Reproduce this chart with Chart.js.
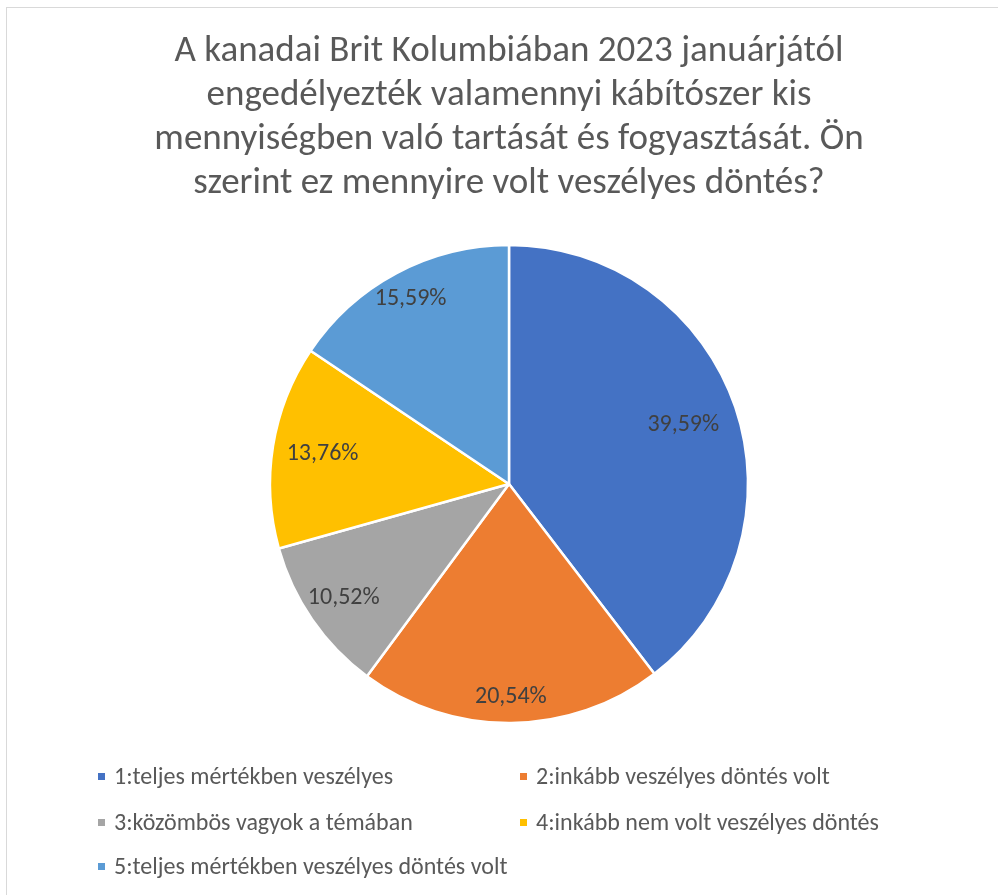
<!DOCTYPE html>
<html>
<head>
<meta charset="utf-8">
<script src="https://cdn.jsdelivr.net/npm/chart.js@4/dist/chart.umd.min.js"></script>
<style>
  html, body { margin: 0; padding: 0; background: #fff; }
  #wrap { position: relative; width: 998px; height: 895px; overflow: hidden; font-family: Carlito, Calibri, Lato, sans-serif; }
  #frame { position: absolute; left: 6px; top: 7px; width: 1100px; height: 1000px; border: 1px solid #d9d9d9; box-sizing: border-box; }
  canvas { position: absolute; left: 0; top: 0; }
  .lg { position: absolute; display: flex; align-items: center; color: #595959; font-size: 24px; white-space: nowrap; line-height: 1; }
  .lg .sq { width: 7px; height: 7px; margin-right: 9px; }
</style>
</head>
<body>
<div id="wrap">
  <div id="frame"></div>
  <canvas id="c" width="998" height="895"></canvas>
  <div id="legend"></div>
</div>
<script>
const titleLines = [
  "A kanadai Brit Kolumbiában 2023 januárjától",
  "engedélyezték valamennyi kábítószer kis",
  "mennyiségben való tartását és fogyasztását. Ön",
  "szerint ez mennyire volt veszélyes döntés?"
];
const categories = [
  "1:teljes mértékben veszélyes",
  "2:inkább veszélyes döntés volt",
  "3:közömbös vagyok a témában",
  "4:inkább nem volt veszélyes döntés",
  "5:teljes mértékben veszélyes döntés volt"
];
const values = [39.59, 20.54, 10.52, 13.76, 15.59];
const colors = ["#4472C4", "#ED7D31", "#A5A5A5", "#FFC000", "#5B9BD5"];

const FONT = "Carlito, Calibri, Lato, sans-serif";

// label distance from centre as fraction of radius (per slice, like Excel best fit)
const labelPlugin = {
  id: 'sliceLabels',
  afterDatasetsDraw(chart, args, opts) {
    const ctx = chart.ctx;
    const meta = chart.getDatasetMeta(0);
    ctx.save();
    ctx.font = opts.size + 'px ' + FONT;
    ctx.fillStyle = opts.color;
    ctx.textAlign = 'center';
    ctx.textBaseline = 'middle';
    meta.data.forEach((arc, i) => {
      const p = arc.getProps(['x', 'y', 'startAngle', 'endAngle', 'outerRadius'], true);
      const mid = (p.startAngle + p.endAngle) / 2;
      const r = p.outerRadius * opts.dist[i];
      const v = chart.data.datasets[0].data[i];
      const txt = v.toFixed(2).replace('.', ',') + '%';
      ctx.fillText(txt, p.x + Math.cos(mid) * r, p.y + Math.sin(mid) * r);
    });
    ctx.restore();
  }
};

new Chart(document.getElementById('c'), {
  type: 'pie',
  data: {
    labels: categories,
    datasets: [{
      data: values,
      backgroundColor: colors,
      borderColor: '#ffffff',
      borderWidth: 2.5,
      radius: 239
    }]
  },
  options: {
    responsive: false,
    animation: false,
    devicePixelRatio: 1,
    layout: { padding: { left: 20, right: 0, top: 0, bottom: 172 } },
    plugins: {
      legend: { display: false },
      tooltip: { enabled: false },
      title: {
        display: true,
        text: titleLines,
        color: '#595959',
        font: { family: FONT, size: 37, weight: 'normal', lineHeight: '44px' },
        padding: { top: 30, bottom: 39 }
      },
      sliceLabels: { size: 24, color: '#404040', dist: [0.77, 0.89, 0.84, 0.79, 0.875] }
    }
  },
  plugins: [labelPlugin]
});

// legend (two columns)
const legend = document.getElementById('legend');
const colX = [98, 520];
const rowY = [776, 822, 866];
categories.forEach((name, i) => {
  const d = document.createElement('div');
  d.className = 'lg';
  d.style.left = colX[i % 2] + 'px';
  d.style.top = (rowY[Math.floor(i / 2)] - 12) + 'px';
  d.style.height = '24px';
  const sq = document.createElement('span');
  sq.className = 'sq';
  sq.style.background = colors[i];
  const t = document.createElement('span');
  t.textContent = name;
  d.appendChild(sq);
  d.appendChild(t);
  legend.appendChild(d);
});
</script>
</body>
</html>
